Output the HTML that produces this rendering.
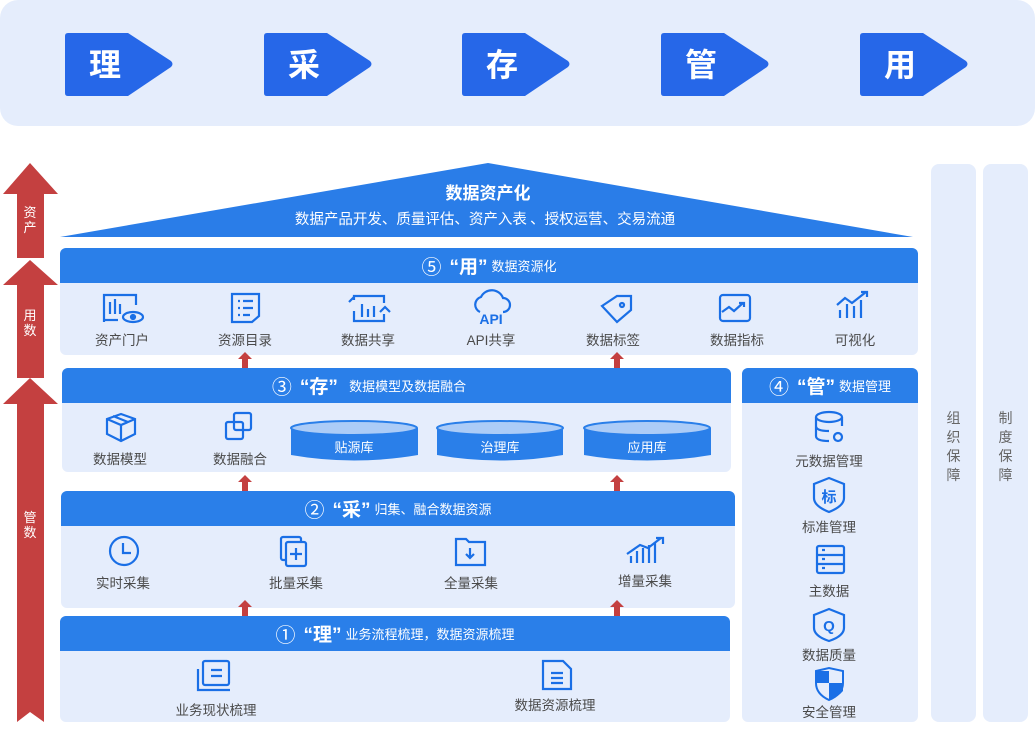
<!DOCTYPE html>
<html><head><meta charset="utf-8"><style>
*{margin:0;padding:0;box-sizing:border-box}
body{width:1035px;height:732px;background:#fff;position:relative;overflow:hidden;font-family:"Liberation Sans","Noto Sans CJK SC",sans-serif}
.a{position:absolute}
.top{z-index:5}
.sec{position:absolute;background:#e5edfc;border-radius:6px;overflow:hidden}
.hd{position:absolute;left:0;right:0;top:0;height:35px;background:#2a7fe9;color:#fff;font-size:13px;display:flex;align-items:center;justify-content:center;white-space:nowrap}
.hd b{font-size:19px;margin:0 4px}
.hd .c{font-size:20px;margin-right:4px;font-weight:normal}
.lbl{position:absolute;font-size:13.5px;color:#4a4a4a;transform:translateX(-50%);white-space:nowrap;z-index:5}
.col{position:absolute;top:164px;height:558px;width:45px;background:#e5edfc;border-radius:8px}
.vt{position:absolute;left:0;right:0;top:245px;text-align:center;font-size:14px;color:#666;line-height:19px}
</style></head><body>
<div class="a" style="left:0;top:0;width:1035px;height:126px;background:#e5edfc;border-radius:18px"></div>
<svg class="a" style="left:0;top:0" width="1035" height="126">
<g fill="#2667e8">
<path d="M68 33H128L171 61Q174 64 171 67L128 96H68Q65 96 65 93V36Q65 33 68 33Z"/>
<path transform="translate(199 0)" d="M68 33H128L171 61Q174 64 171 67L128 96H68Q65 96 65 93V36Q65 33 68 33Z"/>
<path transform="translate(397 0)" d="M68 33H128L171 61Q174 64 171 67L128 96H68Q65 96 65 93V36Q65 33 68 33Z"/>
<path transform="translate(596 0)" d="M68 33H128L171 61Q174 64 171 67L128 96H68Q65 96 65 93V36Q65 33 68 33Z"/>
<path transform="translate(795 0)" d="M68 33H128L171 61Q174 64 171 67L128 96H68Q65 96 65 93V36Q65 33 68 33Z"/>
</g>
<g fill="#fff" font-size="32" font-weight="bold" font-family="Noto Sans CJK SC,sans-serif" text-anchor="middle">
<text x="105" y="76">理</text><text x="304" y="76">采</text><text x="502" y="76">存</text><text x="701" y="76">管</text><text x="900" y="76">用</text>
</g>
</svg>

<svg class="a" style="left:0;top:160px" width="62" height="572">
<g fill="#c44040">
<path d="M30 3L58 34H44V98H17V34H3Z"/>
<path d="M30 100L58 125H44V218H17V125H3Z"/>
<path d="M30 218L58 244H44V562L30 552L17 562V244H3Z"/>
</g>
<g fill="#fff" font-size="13" text-anchor="middle" font-family="Noto Sans CJK SC,sans-serif">
<text x="30" y="57">资</text><text x="30" y="72">产</text>
<text x="30" y="160">用</text><text x="30" y="175">数</text>
<text x="30" y="362">管</text><text x="30" y="377">数</text>
</g>
</svg>

<svg class="a" style="left:0;top:0" width="930" height="245">
<path d="M60 237L488 163L913 237Z" fill="#2a7de8"/>
<text x="488" y="199" fill="#fff" font-size="17" font-weight="bold" text-anchor="middle" font-family="Noto Sans CJK SC,sans-serif">数据资产化</text>
<text x="485" y="224" fill="#fff" font-size="14.5" text-anchor="middle" font-family="Noto Sans CJK SC,sans-serif">数据产品开发、质量评估、资产入表 、授权运营、交易流通</text>
</svg>

<div class="sec" style="left:60px;top:248px;width:858px;height:107px"><div class="hd"><span class="c">⑤</span><b>“用”</b>数据资源化</div></div>
<div class="lbl" style="left:122px;top:329px">资产门户</div>
<div class="lbl" style="left:245px;top:329px">资源目录</div>
<div class="lbl" style="left:368px;top:329px">数据共享</div>
<div class="lbl" style="left:491px;top:329px">API共享</div>
<div class="lbl" style="left:613px;top:329px">数据标签</div>
<div class="lbl" style="left:737px;top:329px">数据指标</div>
<div class="lbl" style="left:855px;top:329px">可视化</div>

<div class="sec" style="left:62px;top:368px;width:669px;height:104px"><div class="hd" style="padding-right:55px"><span class="c">③</span><b>“存”</b>&nbsp;&nbsp;数据模型及数据融合</div></div>
<div class="lbl" style="left:120px;top:448px">数据模型</div>
<div class="lbl" style="left:240px;top:448px">数据融合</div>
<svg class="a top" style="left:0;top:0" width="740" height="480">
<path d="M291 428V455Q354 466 418 455V428Z" fill="#2a7fe9"/><ellipse cx="354" cy="428" rx="63" ry="7" fill="#acccf7" stroke="#2a7fe9" stroke-width="2"/>
<path d="M437 428V455Q500 466 563 455V428Z" fill="#2a7fe9"/><ellipse cx="500" cy="428" rx="63" ry="7" fill="#acccf7" stroke="#2a7fe9" stroke-width="2"/>
<path d="M584 428V455Q647 466 711 455V428Z" fill="#2a7fe9"/><ellipse cx="647" cy="428" rx="63" ry="7" fill="#acccf7" stroke="#2a7fe9" stroke-width="2"/>
<g fill="#fff" font-size="13" text-anchor="middle" font-family="Noto Sans CJK SC,sans-serif">
<text x="354" y="452">贴源库</text><text x="500" y="452">治理库</text><text x="647" y="452">应用库</text>
</g>
</svg>

<div class="sec" style="left:742px;top:368px;width:176px;height:354px"><div class="hd"><span class="c">④</span><b>“管”</b>数据管理</div></div>
<div class="lbl" style="left:829px;top:450px">元数据管理</div>
<div class="lbl" style="left:829px;top:516px">标准管理</div>
<div class="lbl" style="left:829px;top:580px">主数据</div>
<div class="lbl" style="left:829px;top:644px">数据质量</div>
<div class="lbl" style="left:829px;top:701px">安全管理</div>

<div class="sec" style="left:61px;top:491px;width:674px;height:117px"><div class="hd"><span class="c">②</span><b>“采”</b>归集、融合数据资源</div></div>
<div class="lbl" style="left:123px;top:572px">实时采集</div>
<div class="lbl" style="left:296px;top:572px">批量采集</div>
<div class="lbl" style="left:471px;top:572px">全量采集</div>
<div class="lbl" style="left:645px;top:570px">增量采集</div>

<div class="sec" style="left:60px;top:616px;width:670px;height:106px"><div class="hd"><span class="c">①</span><b>“理”</b>业务流程梳理，数据资源梳理</div></div>
<div class="lbl" style="left:216px;top:699px">业务现状梳理</div>
<div class="lbl" style="left:555px;top:694px">数据资源梳理</div>

<svg class="a top" style="left:0;top:0" width="1035" height="732" fill="none" stroke="#1a6fe6" stroke-width="2.2">
<path d="M104 322V295H136V305"/><path d="M110 302V314M115 299V314M120 304V314"/><path d="M104 320H118"/>
<ellipse cx="133" cy="317" rx="10" ry="5"/><circle cx="133" cy="317" r="2" fill="#1a6fe6"/>
<path d="M232 294H259V316L252 322H232Z"/><path d="M238 301H240M243 301H253M238 308H240M243 308H253M238 315H240M243 315H250"/>
<path d="M354 300V296H384V303M384 314V321H354V311"/><path d="M349 302L354 297M362 304V317M368 309V317M374 306V317"/><path d="M380 312L385 307L390 312"/>
<path d="M480 312A8 8 0 0 1 481 297A12 12 0 0 1 503 298A7 7 0 0 1 503 312"/>
<path d="M602 306L617 296H631V310L617 322Z"/><circle cx="622" cy="305" r="2"/>
<rect x="720" y="295" width="30" height="26" rx="3"/><path d="M722 312L729 307L734 311L743 303M739 303H744V307"/>
<path d="M840 318V310M847 318V304M854 318V306M861 318V300"/><path d="M837 305L845 298L852 303L866 292M861 292H867V297"/>
<path d="M121 414L135 419V434L121 441L107 434V419Z"/><path d="M107 419L121 425L135 419M121 425V441M113 416L128 422"/>
<rect x="226" y="422" width="17" height="17" rx="2"/><rect x="234" y="413" width="17" height="17" rx="2"/>
<ellipse cx="829" cy="417" rx="13" ry="5"/><path d="M816 417V436Q816 441 829 441M842 417V426M816 426Q816 431 829 431"/><circle cx="838" cy="437" r="4"/>
<path d="M829 478L844 484V498Q844 506 829 512Q814 506 814 498V484Z"/>
<rect x="817" y="546" width="27" height="27" rx="2"/><path d="M817 555H844M817 564H844M822 550H825M822 559H825M822 568H825"/>
<path d="M829 609L844 615V628Q844 636 829 641Q814 636 814 628V615Z"/>
<circle cx="124" cy="551" r="14"/><path d="M123 543V553H131"/>
<rect x="281" y="537" width="20" height="23" rx="2"/><rect x="286" y="542" width="20" height="24" rx="2" fill="#e5edfc"/><path d="M296 548V560M290 554H302"/>
<path d="M456 539H466L469 542H485V565H456Z"/><path d="M470 548V558M466 554L470 558L474 554"/>
<path d="M631 563V556M637 563V551M643 563V548M649 563V545M655 563V542"/><path d="M627 554L640 545L648 548L661 538M656 538H663V544"/>
<rect x="203" y="661" width="26" height="24" rx="2"/><path d="M198 669V690H230"/><path d="M211 670H222M211 676H222"/>
<path d="M543 661H563L571 669V689H543Z"/><path d="M551 673H563M551 678H563M551 683H563"/>
</svg>
<svg class="a top" style="left:0;top:0" width="1035" height="732">
<text x="491" y="324" fill="#1a6fe6" font-size="14" font-weight="bold" text-anchor="middle" font-family="Liberation Sans">API</text>
<text x="829" y="502" fill="#1a6fe6" font-size="15" font-weight="bold" text-anchor="middle" font-family="Noto Sans CJK SC,sans-serif">标</text>
<text x="829" y="631" fill="#1a6fe6" font-size="15" font-weight="bold" text-anchor="middle" font-family="Liberation Sans">Q</text>
<path d="M816 671H829V683H816ZM829 683H843V691Q838 697 829 700Z" fill="#1a6fe6"/>
<path d="M816 671L829 668L843 671V683Q843 694 829 700Q816 694 816 683Z" fill="none" stroke="#1a6fe6" stroke-width="2"/>
</svg>

<svg class="a top" style="left:0;top:0" width="740" height="732" fill="#c44040">
<path d="M245 352L252 359H248V368H242V359H238Z"/>
<path d="M617 352L624 359H620V368H614V359H610Z"/>
<path d="M245 475L252 482H248V491H242V482H238Z"/>
<path d="M617 475L624 482H620V491H614V482H610Z"/>
<path d="M245 600L252 607H248V616H242V607H238Z"/>
<path d="M617 600L624 607H620V616H614V607H610Z"/>
</svg>

<div class="col" style="left:931px"><div class="vt">组<br>织<br>保<br>障</div></div>
<div class="col" style="left:983px"><div class="vt">制<br>度<br>保<br>障</div></div>
</body></html>
